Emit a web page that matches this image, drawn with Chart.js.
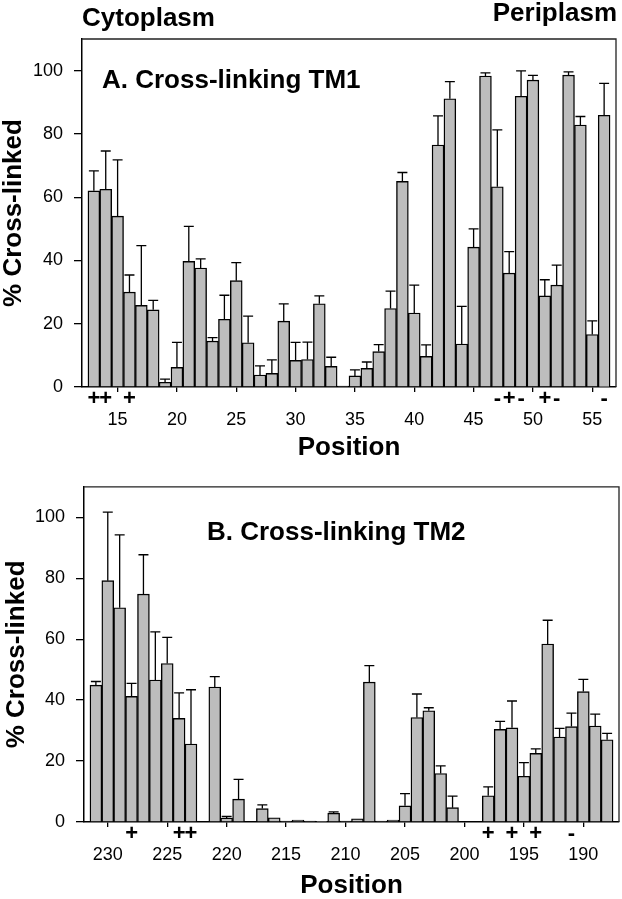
<!DOCTYPE html>
<html>
<head>
<meta charset="utf-8">
<script src="https://cdn.jsdelivr.net/npm/chart.js@4.4.0/dist/chart.umd.min.js"></script>
<style>
  html, body { margin: 0; padding: 0; background: #fff; }
  body { width: 622px; height: 899px; position: relative; overflow: hidden; }
  .panel { position: absolute; left: 0; width: 622px; }
  #wrapA { top: 0; height: 465px; }
  #wrapB { top: 465px; height: 434px; }
</style>
</head>
<body>
<div class="panel" id="wrapA"><canvas id="chartA" width="622" height="465"></canvas></div>
<div class="panel" id="wrapB"><canvas id="chartB" width="622" height="434"></canvas></div>
<script>
// ---- data, panel A (TM1) ----
const positionsA = [13, 14, 15, 16, 17, 18, 19, 20, 21, 22, 23, 24, 25, 26, 27, 28, 29, 30, 31, 32, 33, 34,
                    35, 36, 37, 38, 39, 40, 41, 42, 43, 44, 45, 46, 47, 48, 49, 50, 51, 52, 53, 54, 55, 56];
const valuesA = [62, 62.5, 54, 30, 25.8, 24.4, 1.5, 6.2, 39.7, 37.6, 14.5, 21.4, 33.6, 14, 3.8, 4.3, 20.8, 8.4, 8.7, 26.3, 6.5, 0.3,
                 3.5, 5.9, 11.2, 24.8, 65, 23.4, 9.7, 76.5, 91.1, 13.6, 44.2, 98.3, 63.3, 36, 91.9, 97, 28.8, 32.2, 98.6, 82.8, 16.6, 85.9];
const errorsA = [6.3, 12.1, 17.8, 5.4, 18.9, 3, 1, 7.9, 11.1, 2.9, 1.1, 7.6, 5.7, 8.4, 2.9, 4.3, 5.5, 5.7, 5.5, 2.5, 2.9, 0,
                 1.9, 2, 2.2, 5.5, 2.8, 8.8, 3.6, 9.2, 5.4, 11.9, 5.8, 1, 18, 6.8, 8, 1.5, 5.1, 6.3, 1, 2.7, 4.3, 10.1];
const tickLabelsA = [15, 20, 25, 30, 35, 40, 45, 50, 55];
const signPositionsA = [13, 14, 16, 47, 48, 49, 51, 52, 56];
const signsA = ['+', '+', '+', '-', '+', '-', '+', '-', '-'];

// ---- data, panel B (TM2) ----
const positionsB = [231, 230, 229, 228, 227, 226, 225, 224, 223, 221, 220, 219, 217, 216, 215, 214, 213, 212, 211, 210,
                    209, 208, 207, 206, 205, 204, 203, 202, 201, 198, 197, 196, 195, 194, 193, 192, 191, 190, 189, 188];
const valuesB = [44.9, 79.2, 70.3, 41.2, 74.8, 46.6, 52, 34, 25.6, 44.3, 1.3, 7.5, 4.4, 1.4, 0.3, 0.6, 0.3, 0.2, 2.9, 0.3,
                 1, 45.9, 0.3, 0.6, 5.3, 34.3, 36.5, 15.9, 4.7, 8.6, 30.4, 30.9, 15, 22.5, 58.4, 27.9, 31.3, 42.8, 31.5, 27];
const errorsB = [1.2, 22.5, 23.9, 4.3, 12.9, 15.8, 8.6, 8.4, 17.8, 3.4, 0.5, 6.5, 1.2, 0, 0, 0, 0, 0, 0.4, 0,
                 0, 5.4, 0, 0, 4, 7.7, 1, 2.5, 3.8, 2.9, 2.6, 8.8, 4.5, 1.5, 7.8, 2.8, 4.4, 4, 3.9, 2.1];
const tickLabelsB = [230, 225, 220, 215, 210, 205, 200, 195, 190];
const signPositionsB = [228, 224, 223, 198, 196, 194, 191];
const signsB = ['+', '+', '+', '+', '+', '+', '-'];

const yTicks = [0, 20, 40, 60, 80, 100];

const FONT = "'Liberation Sans', Arial, Helvetica, sans-serif";

function makePanel(canvasId, opts) {
    const canvas = document.getElementById(canvasId);

    // error bars (upper only), frame, charge signs and panel labels
    const extras = {
        id: 'extras_' + canvasId,
        afterDatasetsDraw(chart) {
            const ctx = chart.ctx;
            const meta = chart.getDatasetMeta(0);
            const ys = chart.scales.y;
            ctx.save();
            ctx.strokeStyle = '#000';
            ctx.lineWidth = 1.3;
            meta.data.forEach((bar, i) => {
                const err = opts.errors[i];
                if (!err) return;
                const top = ys.getPixelForValue(opts.values[i] + err);
                const half = bar.width * 0.42;
                ctx.beginPath();
                ctx.moveTo(bar.x, bar.y);
                ctx.lineTo(bar.x, top);
                ctx.moveTo(bar.x - half, top);
                ctx.lineTo(bar.x + half, top);
                ctx.stroke();
            });
            ctx.restore();
        },
        afterDraw(chart) {
            const ctx = chart.ctx;
            const a = chart.chartArea;
            const xs = chart.scales.x;
            ctx.save();
            // top and right side of the frame
            ctx.strokeStyle = '#222';
            ctx.lineWidth = 1.3;
            ctx.beginPath();
            ctx.moveTo(a.left, a.top);
            ctx.lineTo(a.right, a.top);
            ctx.lineTo(a.right, a.bottom);
            ctx.stroke();

            ctx.fillStyle = '#000';
            ctx.font = 'bold 22px ' + FONT;
            ctx.textAlign = 'center';
            ctx.textBaseline = 'middle';
            opts.signPositions.forEach((p, i) => {
                ctx.fillText(opts.signs[i], xs.getPixelForValue(p), a.bottom + 12);
            });

            ctx.font = 'bold 26px ' + FONT;
            ctx.textBaseline = 'alphabetic';
            ctx.textAlign = 'left';
            ctx.fillText(opts.title, a.left + opts.titleDx, a.top + opts.titleDy);
            (opts.corners || []).forEach(c => {
                ctx.textAlign = c.align;
                ctx.fillText(c.text, c.x, c.y);
            });
            ctx.restore();
        }
    };

    return new Chart(canvas.getContext('2d'), {
        type: 'bar',
        data: {
            datasets: [{
                data: opts.positions.map((p, i) => ({ x: p, y: opts.values[i] })),
                backgroundColor: '#bdbdbd',
                borderColor: '#000',
                borderWidth: 1.4,
                barPercentage: 1,
                categoryPercentage: 1,
            }]
        },
        options: {
            responsive: false,
            animation: false,
            devicePixelRatio: 1,
            layout: { padding: { top: opts.padTop, right: opts.padRight, left: 0, bottom: 0 } },
            plugins: {
                legend: { display: false },
                tooltip: { enabled: false },
            },
            scales: {
                x: {
                    type: 'linear',
                    min: opts.xMin,
                    max: opts.xMax,
                    reverse: opts.reverse,
                    offset: false,
                    afterBuildTicks: (scale) => {
                        scale.ticks = opts.tickLabels.map(v => ({ value: v }));
                    },
                    afterFit: (scale) => { scale.height = opts.xAxisHeight; },
                    grid: { display: true, drawOnChartArea: false, drawTicks: true, tickLength: 5, color: '#000', lineWidth: 1.3, offset: false },
                    border: { display: true, color: '#000', width: 1.5 },
                    ticks: {
                        color: '#000',
                        padding: 17,
                        maxRotation: 0,
                        autoSkip: false,
                        font: { family: FONT, size: 18 },
                        callback: (v) => String(v),
                    },
                    title: {
                        display: true,
                        text: 'Position',
                        color: '#000',
                        font: { family: FONT, size: 26, weight: 'bold', lineHeight: 1 },
                        padding: { top: 0, bottom: opts.xTitlePad },
                    },
                },
                y: {
                    min: 0,
                    max: 110,
                    afterBuildTicks: (scale) => {
                        scale.ticks = yTicks.map(v => ({ value: v }));
                    },
                    afterFit: (scale) => { scale.width = opts.yAxisWidth; },
                    grid: { display: true, drawOnChartArea: false, drawTicks: true, tickLength: 8, color: '#000', lineWidth: 1.3 },
                    border: { display: true, color: '#000', width: 1.5 },
                    ticks: {
                        color: '#000',
                        padding: 11,
                        font: { family: FONT, size: 18 },
                        callback: (v) => String(v),
                    },
                    title: {
                        display: true,
                        text: '% Cross-linked',
                        color: '#000',
                        font: { family: FONT, size: 26, weight: 'bold', lineHeight: 1 },
                        padding: { top: opts.yTitlePad, bottom: 0 },
                    },
                },
            },
        },
        plugins: [extras],
    });
}

makePanel('chartA', {
    positions: positionsA, values: valuesA, errors: errorsA,
    tickLabels: tickLabelsA, signPositions: signPositionsA, signs: signsA,
    xMin: 12, xMax: 57, reverse: false,
    padTop: 39, padRight: 6, yAxisWidth: 82, xAxisHeight: 78, xTitlePad: 4, yTitlePad: 1,
    title: 'A. Cross-linking TM1', titleDx: 20, titleDy: 49,
    corners: [
        { text: 'Cytoplasm', x: 82, y: 26, align: 'left' },
        { text: 'Periplasm', x: 617, y: 21, align: 'right' },
    ],
});

makePanel('chartB', {
    positions: positionsB, values: valuesB, errors: errorsB,
    tickLabels: tickLabelsB, signPositions: signPositionsB, signs: signsB,
    xMin: 187, xMax: 232, reverse: true,
    padTop: 10, padRight: 3, yAxisWidth: 84, xAxisHeight: 77, xTitlePad: 0, yTitlePad: 4,
    title: 'B. Cross-linking TM2', titleDx: 123, titleDy: 53,
});
</script>
</body>
</html>
